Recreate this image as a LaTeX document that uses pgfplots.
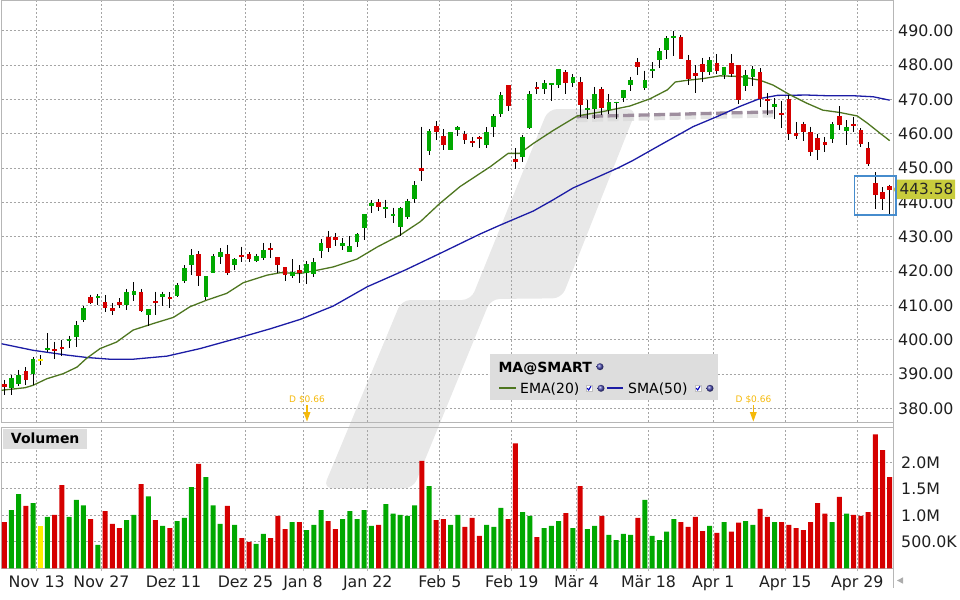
\documentclass[border=0pt]{standalone}
\usepackage{fontspec}
\setmainfont{DejaVu Sans}
\usepackage{pgfplots}
\usepackage{pgfplotstable}
\pgfplotsset{compat=1.18}

\definecolor{cred}{RGB}{213,0,0}
\definecolor{cgreen}{RGB}{0,168,0}
\definecolor{cyel}{RGB}{255,238,0}
\definecolor{gridc}{RGB}{165,165,165}
\definecolor{axc}{RGB}{182,182,182}
\definecolor{emac}{RGB}{78,118,32}
\definecolor{smac}{RGB}{28,28,165}
\definecolor{wm}{RGB}{232,232,232}
\definecolor{legbg}{RGB}{221,221,221}
\definecolor{resc}{RGB}{158,142,158}
\definecolor{divc}{RGB}{245,185,10}
\definecolor{lastc}{RGB}{200,204,60}
\definecolor{boxc}{RGB}{70,140,205}

% candles: i open high low close volume(M)
\pgfplotstableread{
i o h l c v
1 386.05 389.7 384.0 388.9 1.10
2 387.1 391.2 386.5 389.8 1.40
4 390.05 395.0 386.8 394.4 1.23
6 397.1 401.8 396.4 397.7 0.97
9 399.7 401.2 397.7 400.3 0.97
10 400.9 405.3 398.0 404.4 1.29
11 405.8 409.8 405.2 409.1 1.19
13 412.1 413.3 410.2 412.6 0.44
17 410.2 414.8 408.6 414.0 0.91
18 413.0 416.7 411.4 414.3 1.01
20 407.1 408.8 404.1 408.8 1.36
22 412.5 414.0 409.8 413.3 0.80
24 412.7 416.4 412.4 415.8 0.89
25 417.1 421.7 416.4 420.8 0.95
26 421.7 426.4 418.9 424.7 1.53
28 412.4 418.5 411.6 418.5 1.72
29 419.5 425.0 419.3 424.4 1.19
30 424.2 426.7 422.0 425.5 0.84
32 421.7 423.7 420.3 423.5 0.82
35 422.9 425.0 422.6 424.4 0.46
36 423.8 428.2 423.2 426.1 0.65
40 418.5 423.5 418.1 419.8 0.87
42 419.5 422.9 416.2 422.0 0.72
43 419.1 423.8 418.3 422.6 0.82
44 425.8 429.3 423.8 428.2 1.10
47 427.3 429.6 426.1 428.2 0.93
48 425.5 430.2 425.5 427.3 1.08
49 428.4 431.1 427.0 430.8 0.93
50 432.6 436.6 429.0 436.6 1.10
51 438.9 440.7 436.9 439.8 0.80
53 438.1 440.8 435.6 438.7 1.21
54 436.0 438.5 434.0 436.6 1.03
55 432.7 438.7 430.3 438.3 1.01
56 435.8 441.0 435.3 440.4 0.99
57 440.9 446.2 439.9 445.0 1.19
59 455.1 461.3 453.9 460.9 1.55
62 455.3 460.5 455.3 460.5 0.82
63 461.2 462.3 459.4 462.0 1.01
67 456.8 461.9 455.9 460.5 0.82
68 462.1 465.8 459.1 465.2 0.78
69 465.9 472.2 465.0 471.3 1.14
72 453.3 459.7 451.8 459.0 1.06
73 461.7 472.4 461.4 471.6 0.99
75 473.0 475.6 471.6 474.7 0.76
76 474.3 474.8 469.5 474.8 0.80
77 474.3 478.8 473.4 478.8 0.89
79 474.9 477.4 473.6 476.5 0.76
81 466.9 469.8 464.4 467.5 0.74
82 467.2 473.7 464.4 471.6 0.80
84 466.9 471.6 465.8 469.3 0.63
85 468.9 469.4 464.2 469.4 0.53
86 470.5 472.8 469.4 472.8 0.65
87 474.2 476.7 472.6 475.7 0.63
89 473.3 478.4 472.8 475.7 1.29
90 478.4 480.9 476.4 478.9 0.61
91 481.6 485.0 479.3 484.2 0.53
92 484.5 488.5 481.9 488.0 0.69
93 488.1 490.0 482.8 488.5 0.93
98 478.1 482.4 477.0 481.5 0.80
100 477.1 479.5 476.0 479.5 0.87
103 474.0 478.6 472.5 477.1 0.89
104 476.6 479.8 474.0 478.9 0.82
107 467.9 470.3 464.2 468.6 0.87
115 458.5 463.5 457.2 463.0 0.87
117 460.9 464.0 456.6 462.0 1.03
}\upT

\pgfplotstableread{
i o h l c v
0 387.1 388.3 384.0 386.2 0.87
3 390.8 392.0 386.8 388.1 1.18
7 397.4 399.4 394.5 396.8 1.01
8 398.0 400.0 395.1 397.2 1.57
12 412.3 413.1 410.3 410.6 0.93
14 411.1 412.9 408.0 409.2 1.08
15 409.1 410.7 407.3 408.5 0.84
16 411.1 412.0 409.1 410.0 0.76
19 414.0 414.8 408.0 408.3 1.59
21 411.4 414.0 407.2 410.7 0.91
23 412.3 413.8 409.2 411.8 0.76
27 425.0 425.8 415.6 418.5 1.97
31 425.0 427.6 418.8 419.5 1.18
33 424.7 427.1 422.6 424.1 0.57
34 425.0 425.6 422.5 423.5 0.50
37 426.7 428.2 423.8 426.1 0.57
38 424.1 424.1 419.4 421.8 0.99
39 421.2 421.2 417.2 418.9 0.74
41 420.3 421.7 416.5 419.4 0.87
45 429.9 431.7 425.5 426.8 0.89
46 429.9 431.1 427.3 429.1 0.74
52 440.1 440.9 437.5 438.6 0.82
58 450.0 462.1 446.3 449.1 2.03
60 462.4 463.7 458.2 460.6 0.91
61 459.3 461.4 455.3 456.8 0.93
64 460.0 460.9 457.1 458.3 0.78
65 457.9 459.1 456.2 457.4 0.95
66 459.1 459.3 455.9 458.6 0.61
70 474.2 474.2 466.7 468.2 0.93
71 452.6 455.9 449.7 451.7 2.36
74 473.6 475.0 471.6 473.0 0.59
78 478.0 478.5 471.6 474.8 1.04
80 475.0 476.5 465.0 468.4 1.55
83 473.1 473.7 465.5 467.6 0.99
88 480.9 482.1 477.0 479.6 0.95
94 488.2 488.8 481.9 481.9 0.87
95 481.5 483.0 474.3 476.1 0.78
96 477.7 480.0 472.0 476.9 0.97
97 480.4 482.1 475.2 478.1 0.70
99 480.6 483.3 477.4 478.4 0.67
101 480.5 483.3 476.7 477.5 0.69
102 480.1 480.1 468.7 469.8 0.86
105 478.1 479.1 467.7 470.1 1.12
106 470.1 471.8 465.5 469.6 0.97
108 466.0 469.6 461.8 465.6 0.87
109 470.1 471.3 458.2 459.8 0.82
110 460.1 463.5 458.6 459.5 0.76
111 462.8 463.5 458.0 460.4 0.72
112 460.6 462.1 453.6 454.8 0.87
113 458.8 459.8 452.4 455.3 1.23
114 457.6 459.1 454.7 456.8 1.03
116 465.2 468.1 461.1 462.7 1.35
118 462.9 465.0 460.6 462.4 1.01
119 461.0 461.6 456.2 457.0 0.99
120 456.0 457.5 450.6 451.3 1.06
121 445.6 448.8 438.2 442.2 2.53
122 443.0 444.4 437.9 441.1 2.23
123 444.8 445.2 436.3 443.58 1.72
}\downT

\pgfplotstableread{
i o h l c v
5 394.2 395.6 392.7 394.2 0.80
}\flatT

\pgfplotstableread{
i v
-0.6 385.2
2.9 386.0
4.0 386.7
5.9 388.6
8.2 390.1
10.1 392.0
11.4 394.5
13.3 397.4
15.6 399.3
17.9 402.8
20.7 404.7
23.5 406.5
25.8 409.6
28.1 411.5
30.9 413.5
33.2 416.6
36.5 418.8
38.3 419.5
41.1 419.3
42.9 420.0
45.7 421.2
49.0 423.5
51.8 427.0
55.0 430.5
57.8 434.4
60.5 439.7
63.3 444.6
67.5 450.4
70.0 454.3
71.6 454.3
73.5 457.2
76.2 460.9
79.6 465.2
83.2 466.5
86.9 468.1
89.7 470.2
92.1 472.8
93.2 475.1
94.9 475.6
97.1 476.1
99.4 476.9
102.2 476.7
105.0 475.6
106.8 474.2
109.2 471.3
111.5 468.9
113.7 466.9
116.1 466.2
118.5 465.2
119.9 463.1
121.7 460.1
123.0 458.0
}\emaT

\pgfplotstableread{
i v
-0.6 398.9
4.0 396.9
8.7 395.5
11.5 394.8
14.7 394.3
17.9 394.3
22.6 395.2
27.2 397.4
32.7 400.6
37.0 403.2
41.1 405.9
45.7 409.8
50.4 415.4
55.7 420.3
60.5 425.1
66.1 430.8
68.9 433.4
73.5 437.5
76.2 440.7
79.0 444.2
82.0 447.0
85.1 449.9
87.3 452.2
91.1 456.7
95.7 462.1
99.0 465.0
102.2 468.0
105.0 470.3
107.4 471.2
111.5 471.3
114.3 471.1
117.9 471.1
120.7 470.8
123.0 469.8
}\smaT

\pgfplotsset{
  chartbase/.style={
    scale only axis, anchor=south west, width=891.6bp,
    xmin=-0.36, xmax=123.5,
    axis line style={draw=axc, line width=1bp},
    grid=major,
    major grid style={draw=gridc, line width=0.8bp, dash pattern=on 2bp off 2bp},
    xtick={4.5,13.5,23.5,33.5,41.5,50.5,60.5,70.5,79.5,89.5,98.5,108.5,118.5},
    yticklabel pos=right,
    ticklabel style={font=\fontsize{15.8bp}{18bp}\selectfont, text=black!88},
    ytick style={draw=none},
    yticklabel style={anchor=west, inner sep=0pt, xshift=4.7bp},
  },
  wick/.style={draw=none, mark=none,
    error bars/.cd, y dir=minus, y explicit, error mark=none,
    error bar style={draw=black, line width=1bp, solid}},
  body/.style={draw=none, mark=none,
    error bars/.cd, y dir=both, y explicit, error mark=none,
    error bar style={draw=#1, line width=4.7bp, solid}},
  vbar/.style={ybar, bar width=5bp, bar shift=0pt, fill=#1, draw=none},
}

\begin{document}
\begin{tikzpicture}
\useasboundingbox (0,0) rectangle (960bp,-600bp);

% watermark
\fill[wm, rounded corners=9bp]
  (323.3bp,-488.3bp) -- (401.7bp,-300bp) -- (471bp,-300bp) -- (548.3bp,-109bp)
  -- (636.7bp,-109bp) -- (561.7bp,-298.3bp) -- (490.7bp,-299bp) -- (413.3bp,-488.3bp) -- cycle;

% ---------------- price panel ----------------
\begin{axis}[chartbase,
  at={(1.7bp,-422bp)}, height=422bp,
  ymin=376, ymax=499,
  ytick={380,390,...,490},
  xticklabels={},
  xtick style={draw=none},
  major tick length=0pt,
  yticklabel style={/pgf/number format/.cd, fixed, fixed zerofill, precision=2, assume math mode=true},
]
% resistance line with shadow
\addplot[line width=5bp, color=gray!30, opacity=0.7, dash pattern=on 11bp off 4.5bp]
  coordinates {(79.5,464.1) (106.8,465.5)};
\addplot[line width=3.3bp, color=resc, dash pattern=on 11bp off 4.5bp]
  coordinates {(79.5,465.0) (106.8,466.4)};
% moving averages
\addplot[smac, line width=1.3bp, mark=none] table[x=i, y=v] {\smaT};
\addplot[emac, line width=1.3bp, mark=none] table[x=i, y=v] {\emaT};
% wicks
\addplot[wick] table[x=i, y=h, y error minus expr=\thisrow{h}-\thisrow{l}] {\upT};
\addplot[wick] table[x=i, y=h, y error minus expr=\thisrow{h}-\thisrow{l}] {\downT};
\addplot[wick] table[x=i, y=h, y error minus expr=\thisrow{h}-\thisrow{l}] {\flatT};
% bodies
\addplot[body=cgreen] table[x=i, y expr=(\thisrow{o}+\thisrow{c})/2, y error expr={max(abs(\thisrow{c}-\thisrow{o})/2,0.22)}] {\upT};
\addplot[body=cred] table[x=i, y expr=(\thisrow{o}+\thisrow{c})/2, y error expr={max(abs(\thisrow{c}-\thisrow{o})/2,0.22)}] {\downT};
\addplot[body=cyel] table[x=i, y expr=(\thisrow{o}+\thisrow{c})/2, y error expr={max(abs(\thisrow{c}-\thisrow{o})/2,0.22)}] {\flatT};
\end{axis}

% ---------------- volume panel ----------------
\begin{axis}[chartbase,
  at={(1.7bp,-568.3bp)}, height=141.3bp,
  ymin=0, ymax=2.667,
  ytick={0.5,1,1.5,2},
  yticklabels={500.0K,1.0M,1.5M,2.0M},
  xticklabels={Nov 13,Nov 27,Dez 11,Dez 25,Jan 8,Jan 22,Feb 5,Feb 19,Mär 4,Mär 18,Apr 1,Apr 15,Apr 29},
  xtick pos=bottom,
  tick align=outside, major tick length=3bp,
  xtick style={draw=axc, line width=1bp},
  xticklabel style={anchor=base, inner sep=0pt, yshift=-16.4bp},
]
\addplot[vbar=cgreen] table[x=i, y=v] {\upT};
\addplot[vbar=cred] table[x=i, y=v] {\downT};
\addplot[vbar=cyel] table[x=i, y=v] {\flatT};
\end{axis}

% right border extension and small arrow
\draw[axc, line width=1bp] (893.3bp,0bp) -- (893.3bp,-588bp);
\fill[gray!65] (897bp,-580.5bp) -- (903bp,-577.3bp) -- (903bp,-583.7bp) -- cycle;

% Volumen label
\node[fill=legbg, anchor=north west, minimum width=83.4bp, minimum height=20bp, inner sep=0pt,
      font=\bfseries\fontsize{14bp}{16bp}\selectfont] at (3.3bp,-428.5bp) {Volumen};

% MA@SMART legend
\fill[legbg] (490bp,-354bp) rectangle (718.3bp,-400bp);
\node[anchor=base west, inner sep=0pt, font=\bfseries\fontsize{14bp}{16bp}\selectfont] at (498.3bp,-372.3bp) {MA@SMART};
\shade[ball color=blue!40!gray] (600bp,-366.7bp) circle (3.5bp);
\draw[emac, line width=2bp] (499bp,-388bp) -- (515.7bp,-388bp);
\node[anchor=base west, inner sep=0pt, font=\fontsize{14bp}{16bp}\selectfont] at (520bp,-393.5bp) {EMA(20)};
\draw[gray!50, fill=white, line width=0.6bp] (586bp,-385.2bp) rectangle (592bp,-391.2bp);
\draw[blue!75!black, line width=1.1bp] (587.2bp,-388.2bp) -- (588.7bp,-389.9bp) -- (591bp,-386.2bp);
\shade[ball color=blue!40!gray] (601bp,-388.3bp) circle (3.5bp);
\draw[smac, line width=2bp] (606.7bp,-388bp) -- (623.3bp,-388bp);
\node[anchor=base west, inner sep=0pt, font=\fontsize{14bp}{16bp}\selectfont] at (628bp,-393.5bp) {SMA(50)};
\draw[gray!50, fill=white, line width=0.6bp] (695bp,-385.2bp) rectangle (701bp,-391.2bp);
\draw[blue!75!black, line width=1.1bp] (696.2bp,-388.2bp) -- (697.7bp,-389.9bp) -- (700bp,-386.2bp);
\shade[ball color=blue!40!gray] (710bp,-388.3bp) circle (3.5bp);

% dividend markers
\node[text=divc, inner sep=0pt, font=\fontsize{9bp}{10bp}\selectfont] at (307bp,-400bp) {D \$0.66};
\draw[divc, line width=1.2bp] (307bp,-405bp) -- (307bp,-413bp);
\fill[divc] (303.5bp,-412bp) -- (310.5bp,-412bp) -- (307bp,-421.5bp) -- cycle;
\node[text=divc, inner sep=0pt, font=\fontsize{9bp}{10bp}\selectfont] at (753.5bp,-400bp) {D \$0.66};
\draw[divc, line width=1.2bp] (753.3bp,-405bp) -- (753.3bp,-413bp);
\fill[divc] (749.8bp,-412bp) -- (756.8bp,-412bp) -- (753.3bp,-421.5bp) -- cycle;

% last price label
\fill[lastc] (893.5bp,-189.5bp) -- (897bp,-184bp) -- (897bp,-179.5bp) -- (955bp,-179.5bp)
  -- (955bp,-199bp) -- (897bp,-199bp) -- (897bp,-195bp) -- cycle;
\node[inner sep=0pt, text=black!85, font=\fontsize{15.3bp}{17bp}\selectfont] at (926.5bp,-189.3bp) {443.58};

% highlight box
\draw[boxc, line width=1.6bp] (854.3bp,-176bp) rectangle (896bp,-215bp);
\end{tikzpicture}
\end{document}
